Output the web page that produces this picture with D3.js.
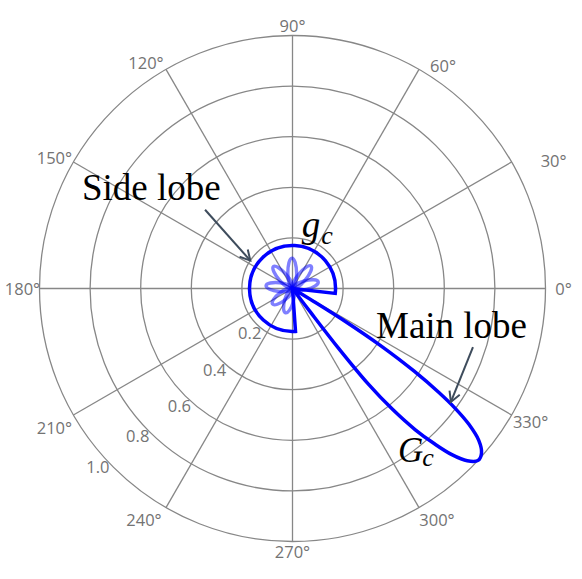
<!DOCTYPE html>
<html>
<head>
<meta charset="utf-8">
<script src="https://cdn.jsdelivr.net/npm/d3@7"></script>
<style>
  body { margin: 0; background: #fff; }
  svg { display: block; }
</style>
</head>
<body>
<svg width="582" height="579"></svg>
<script>
// ring values and labels
const ringValues = [0.2, 0.4, 0.6, 0.8, 1.0];
const ringLabels = ["0.2", "0.4", "0.6", "0.8", "1.0"];
// spokes, every 30 degrees
const spokeAngles = [0, 30, 60, 90, 120, 150, 180, 210, 240, 270, 300, 330];
const spokeLabels = ["0°", "30°", "60°", "90°", "120°", "150°", "180°", "210°", "240°", "270°", "300°", "330°"];

// G_c: flat side-lobe level outside the main sector
const sideLevel = 0.17;
const sideFrom = -6.5;   // degrees
const sideTo = 274;

// G_c main lobe contour (degrees, gain)
const lobeAngles = [-52.8, -52.8, -52.4, -51.6, -50.4, -49, -47.6, -46.2, -44.6, -42.8, -41, -39.2, -37.6, -36.4, -35.4, -34.2, -33, -32, -31.4, -31.4];
const lobeGains  = [0, 0.12, 0.3, 0.48, 0.62, 0.74, 0.83, 0.91, 0.97, 1.0, 0.99, 0.95, 0.88, 0.8, 0.71, 0.58, 0.42, 0.25, 0.1, 0];

// g_c petals
const petalAngles = [14.5, 50.5, 91, 131, 174, 218, 254];
const petalGains  = [0.105, 0.115, 0.12, 0.115, 0.105, 0.1, 0.1];

let width = 582, height = 579;
let cx = 292.5, cy = 288.5, R = 253;

// label placement (pixels from spoke end / ring)
const angleLabelShift = [[18, 0], [42, -2], [24, -4], [0, -10], [-20, -7], [-19, -5], [-17, 0], [-19, 12], [-22, 12], [0, 10], [18, 12], [19, 6]];
const ringLabelAngle = [226, 226, 226, 223.5, 222.5];

let svg = d3.select("svg");
let r = d3.scaleLinear().domain([0, 1]).range([0, R]);
let x = d3.scaleLinear().domain([-1, 1]).range([cx - R, cx + R]);
let y = d3.scaleLinear().domain([-1, 1]).range([cy + R, cy - R]);
const rad = (deg) => deg * Math.PI / 180;
const toD3 = (deg) => rad(90 - deg); // math angle -> d3 radial angle

let grid = svg.append("g").attr("transform", `translate(${cx},${cy})`);

grid.selectAll("circle")
  .data(ringValues)
  .enter()
  .append("circle")
  .attr("r", (d) => r(d))
  .attr("fill", "none")
  .attr("stroke", "#878787")
  .attr("stroke-width", 1.3);

grid.selectAll("line")
  .data(spokeAngles)
  .enter()
  .append("line")
  .attr("x1", 0).attr("y1", 0)
  .attr("x2", (d) => r(1) * Math.cos(rad(d)))
  .attr("y2", (d) => -r(1) * Math.sin(rad(d)))
  .attr("stroke", "#878787")
  .attr("stroke-width", 1.3);

// angle labels
grid.selectAll("text.ang")
  .data(spokeAngles)
  .enter()
  .append("text")
  .attr("class", "ang")
  .attr("x", (d, i) => r(1) * Math.cos(rad(d)) + angleLabelShift[i][0])
  .attr("y", (d, i) => -r(1) * Math.sin(rad(d)) + angleLabelShift[i][1])
  .attr("text-anchor", "middle")
  .attr("dominant-baseline", "central")
  .style("font-family", "'Open Sans', sans-serif")
  .style("font-size", "16.5px")
  .attr("fill", "#737373")
  .text((d, i) => spokeLabels[i]);

// radial labels
grid.selectAll("text.rad")
  .data(ringValues)
  .enter()
  .append("text")
  .attr("class", "rad")
  .attr("x", (d, i) => (r(d) + 11) * Math.cos(rad(ringLabelAngle[i])))
  .attr("y", (d, i) => -(r(d) + 11) * Math.sin(rad(ringLabelAngle[i])))
  .attr("text-anchor", "middle")
  .attr("dominant-baseline", "central")
  .style("font-family", "'Open Sans', sans-serif")
  .style("font-size", "16.5px")
  .attr("fill", "#737373")
  .text((d, i) => ringLabels[i]);

let plot = svg.append("g").attr("transform", `translate(${cx},${cy})`);

// g_c petals
plot.selectAll("ellipse")
  .data(petalAngles)
  .enter()
  .append("ellipse")
  .attr("cx", (d, i) => r(petalGains[i]) / 2)
  .attr("cy", 0)
  .attr("rx", (d, i) => r(petalGains[i]) / 2)
  .attr("ry", 4.4)
  .attr("transform", (d) => `rotate(${-d})`)
  .attr("fill", "none")
  .attr("stroke", "#0000ff")
  .attr("stroke-opacity", 0.5)
  .attr("stroke-width", 3.4);

// G_c side region
let arc = d3.arc()
  .innerRadius(0)
  .outerRadius(r(sideLevel))
  .startAngle(toD3(sideTo))
  .endAngle(toD3(sideFrom));

plot.append("path")
  .attr("d", arc())
  .attr("fill", "none")
  .attr("stroke", "#0000ff")
  .attr("stroke-width", 3.5)
  .attr("stroke-linejoin", "miter");

// G_c main lobe
let lobe = d3.lineRadial()
  .angle((d, i) => toD3(lobeAngles[i]))
  .radius((d, i) => r(lobeGains[i]))
  .curve(d3.curveCatmullRom.alpha(0.5));

plot.append("path")
  .attr("d", lobe(lobeAngles))
  .attr("fill", "none")
  .attr("stroke", "#0000ff")
  .attr("stroke-width", 3.5)
  .attr("stroke-linejoin", "miter");

// arrows
let defs = svg.append("defs");
defs.append("marker")
  .attr("id", "head")
  .attr("markerUnits", "userSpaceOnUse")
  .attr("viewBox", "-12 -7 14 14")
  .attr("markerWidth", 14).attr("markerHeight", 14)
  .attr("refX", 0).attr("refY", 0)
  .attr("orient", "auto")
  .append("path")
  .attr("d", "M-10,-5.5 L0,0 L-10,5.5")
  .attr("fill", "none")
  .attr("stroke", "#3e4c5c")
  .attr("stroke-width", 2);

const arrows = [
  { from: [138, 0.465], to: [146.5, 0.2] },
  { from: [-18, 0.75], to: [-35.6, 0.77] }
];
plot.selectAll("line.arrow")
  .data(arrows)
  .enter()
  .append("line")
  .attr("class", "arrow")
  .attr("x1", (d) => r(d.from[1]) * Math.cos(rad(d.from[0])))
  .attr("y1", (d) => -r(d.from[1]) * Math.sin(rad(d.from[0])))
  .attr("x2", (d) => r(d.to[1]) * Math.cos(rad(d.to[0])))
  .attr("y2", (d) => -r(d.to[1]) * Math.sin(rad(d.to[0])))
  .attr("stroke", "#3e4c5c")
  .attr("stroke-width", 2)
  .attr("marker-end", "url(#head)");

// annotation text
const serif = "'Liberation Serif', 'Times New Roman', serif";
svg.append("text")
  .attr("x", x(-0.832)).attr("y", y(0.35))
  .style("font-family", serif).style("font-size", "37px")
  .text("Side lobe");

svg.append("text")
  .attr("x", x(0.33)).attr("y", y(-0.196))
  .style("font-family", serif).style("font-size", "37px")
  .text("Main lobe");

let gl = svg.append("text")
  .attr("x", x(0.037)).attr("y", y(0.204))
  .style("font-family", serif).style("font-style", "italic").style("font-size", "37px");
gl.append("tspan").text("g");
gl.append("tspan").attr("dy", 7).attr("dx", 1).style("font-size", "26px").text("c");

let GL = svg.append("text")
  .attr("x", x(0.417)).attr("y", y(-0.685))
  .style("font-family", serif).style("font-style", "italic").style("font-size", "35px");
GL.append("tspan").text("G");
GL.append("tspan").attr("dy", 4).attr("dx", -1).style("font-size", "26px").text("c");
</script>
</body>
</html>
